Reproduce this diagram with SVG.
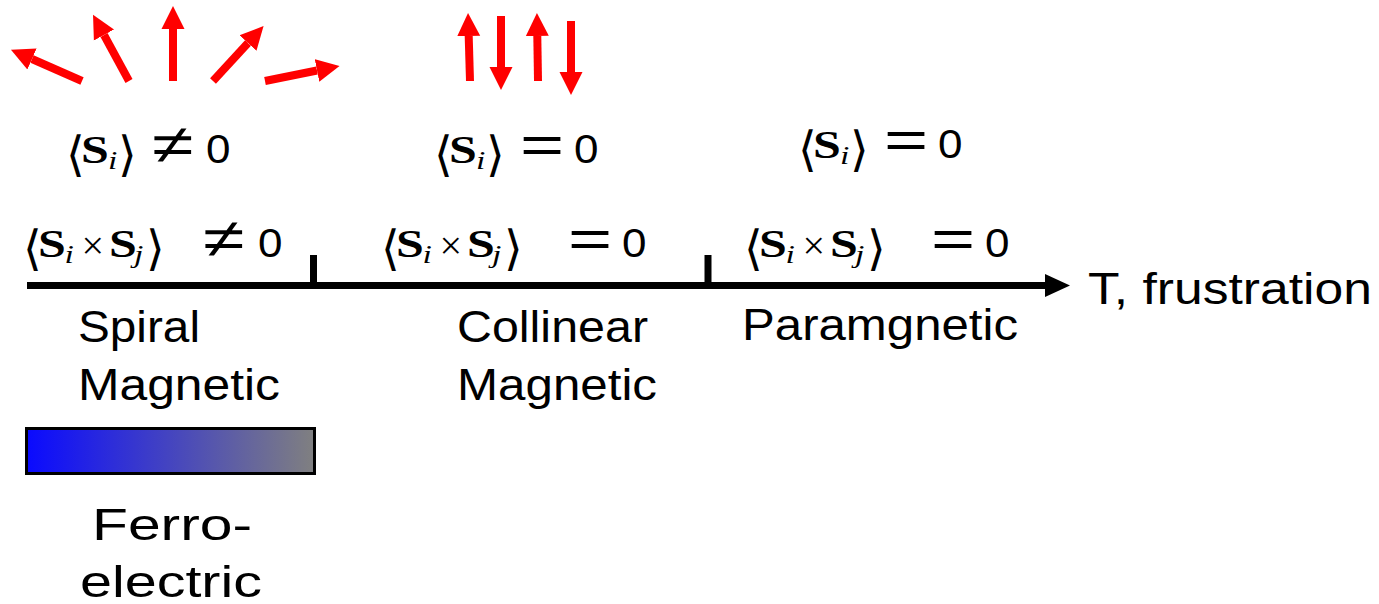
<svg xmlns="http://www.w3.org/2000/svg" width="1379" height="604" viewBox="0 0 1379 604">
<style>
.S{font-family:"Liberation Serif","DejaVu Serif",serif;font-size:40px;font-weight:bold;fill:#000}
.s{font-family:"Liberation Serif","DejaVu Serif",serif;font-style:italic;font-size:26px;fill:#000}
.x{font-family:"Liberation Serif","DejaVu Serif",serif;font-size:40px;fill:#000}
.br{font-family:"DejaVu Sans","Noto Sans",sans-serif;font-size:48px;fill:#000}
.eq{font-family:"Liberation Sans","DejaVu Sans",sans-serif;font-size:54px;fill:#000}
.z{font-family:"Liberation Sans","DejaVu Sans",sans-serif;font-size:40px;fill:#000}
.lbl{font-family:"Liberation Sans","DejaVu Sans",sans-serif;font-size:44px;fill:#000}
.spin{stroke:#ff0000;stroke-width:8;fill:none;marker-end:url(#rh)}
</style>
<defs>
<marker id="rh" markerUnits="userSpaceOnUse" markerWidth="24" markerHeight="24" refX="0" refY="12" orient="auto" viewBox="0 0 24 24">
<path d="M0,0.5 L23,12 L0,23.5 Z" fill="#ff0000"/>
</marker>
<linearGradient id="fe" x1="0" y1="0" x2="1" y2="0">
<stop offset="0" stop-color="#0a0aff"/>
<stop offset="1" stop-color="#808080"/>
</linearGradient>
</defs>

<g id="spiral-spins">
<line class="spin" x1="82" y1="81" x2="32" y2="59"/>
<line class="spin" x1="129" y1="81" x2="104" y2="35"/>
<line class="spin" x1="173" y1="81" x2="173" y2="29"/>
<line class="spin" x1="213" y1="81" x2="248" y2="43"/>
<line class="spin" x1="265" y1="81" x2="317" y2="70.5"/>
</g>
<g id="collinear-spins">
<line class="spin" x1="470" y1="81" x2="468.7" y2="36"/>
<line class="spin" x1="501" y1="16" x2="501" y2="67"/>
<line class="spin" x1="538" y1="81" x2="537.3" y2="36"/>
<line class="spin" x1="571" y1="21" x2="571" y2="72"/>
</g>

<g id="math-spiral-1" transform="translate(70,163)">
<text class="br" x="-4" y="8">⟨</text>
<text class="S" transform="translate(11,0) scale(1.25,1)">S</text>
<text class="s" transform="translate(38,6) scale(1.3,1)">i</text>
<text class="br" x="48" y="8">⟩</text>
<text class="eq" transform="translate(82,0) scale(1.4,1)">≠</text>
<text class="z" transform="translate(136,0) scale(1.1,1)">0</text>
</g>
<g id="math-collinear-1" transform="translate(438,163)">
<text class="br" x="-4" y="8">⟨</text>
<text class="S" transform="translate(11,0) scale(1.25,1)">S</text>
<text class="s" transform="translate(38,6) scale(1.3,1)">i</text>
<text class="br" x="48" y="8">⟩</text>
<text class="eq" transform="translate(82,0) scale(1.4,1)">=</text>
<text class="z" transform="translate(136,0) scale(1.1,1)">0</text>
</g>
<g id="math-para-1" transform="translate(802,158)">
<text class="br" x="-4" y="8">⟨</text>
<text class="S" transform="translate(11,0) scale(1.25,1)">S</text>
<text class="s" transform="translate(38,6) scale(1.3,1)">i</text>
<text class="br" x="48" y="8">⟩</text>
<text class="eq" transform="translate(82,0) scale(1.4,1)">=</text>
<text class="z" transform="translate(136,0) scale(1.1,1)">0</text>
</g>

<g id="math-spiral-2" transform="translate(27,257)">
<text class="br" x="-4" y="8">⟨</text>
<text class="S" transform="translate(11,0) scale(1.25,1)">S</text>
<text class="s" transform="translate(37.5,6) scale(1.3,1)">i</text>
<text class="x" x="54.5" y="2">×</text>
<text class="S" transform="translate(82,0) scale(1.25,1)">S</text>
<text class="s" transform="translate(107,6) scale(1.3,1)">j</text>
<text class="br" x="119" y="8">⟩</text>
<text class="eq" transform="translate(176,0) scale(1.4,1)">≠</text>
<text class="z" transform="translate(231,0) scale(1.1,1)">0</text>
</g>
<g id="math-collinear-2" transform="translate(385,257)">
<text class="br" x="-4" y="8">⟨</text>
<text class="S" transform="translate(11,0) scale(1.25,1)">S</text>
<text class="s" transform="translate(37.5,6) scale(1.3,1)">i</text>
<text class="x" x="54.5" y="2">×</text>
<text class="S" transform="translate(82,0) scale(1.25,1)">S</text>
<text class="s" transform="translate(107,6) scale(1.3,1)">j</text>
<text class="br" x="119" y="8">⟩</text>
<text class="eq" transform="translate(183,0) scale(1.4,1)">=</text>
<text class="z" transform="translate(237,0) scale(1.1,1)">0</text>
</g>
<g id="math-para-2" transform="translate(748,257)">
<text class="br" x="-4" y="8">⟨</text>
<text class="S" transform="translate(11,0) scale(1.25,1)">S</text>
<text class="s" transform="translate(37.5,6) scale(1.3,1)">i</text>
<text class="x" x="54.5" y="2">×</text>
<text class="S" transform="translate(82,0) scale(1.25,1)">S</text>
<text class="s" transform="translate(107,6) scale(1.3,1)">j</text>
<text class="br" x="119" y="8">⟩</text>
<text class="eq" transform="translate(183,0) scale(1.4,1)">=</text>
<text class="z" transform="translate(237,0) scale(1.1,1)">0</text>
</g>

<g id="axis">
<line x1="27" y1="285.5" x2="1046" y2="285.5" stroke="#000" stroke-width="7"/>
<path d="M1045,274 L1070,285.5 L1045,297 Z" fill="#000"/>
<line x1="313.5" y1="255" x2="313.5" y2="285" stroke="#000" stroke-width="7"/>
<line x1="708" y1="255" x2="708" y2="285" stroke="#000" stroke-width="7"/>
</g>
<g id="axis-label"><text class="lbl" x="1088" y="304" textLength="284" lengthAdjust="spacingAndGlyphs">T, frustration</text></g>

<g id="spiral-label">
<text class="lbl" x="78" y="342" textLength="122" lengthAdjust="spacingAndGlyphs">Spiral</text>
<text class="lbl" x="78" y="400" textLength="202" lengthAdjust="spacingAndGlyphs">Magnetic</text>
</g>
<g id="collinear-label">
<text class="lbl" x="457" y="342" textLength="191" lengthAdjust="spacingAndGlyphs">Collinear</text>
<text class="lbl" x="457" y="400" textLength="200" lengthAdjust="spacingAndGlyphs">Magnetic</text>
</g>
<g id="para-label">
<text class="lbl" x="742" y="340" textLength="276" lengthAdjust="spacingAndGlyphs">Paramgnetic</text>
</g>

<g id="ferroelectric">
<rect x="26.5" y="428.5" width="288" height="45" fill="url(#fe)" stroke="#000" stroke-width="3"/>
<text class="lbl" x="92" y="540" textLength="160" lengthAdjust="spacingAndGlyphs">Ferro-</text>
<text class="lbl" x="80" y="597" textLength="182" lengthAdjust="spacingAndGlyphs">electric</text>
</g>
</svg>
